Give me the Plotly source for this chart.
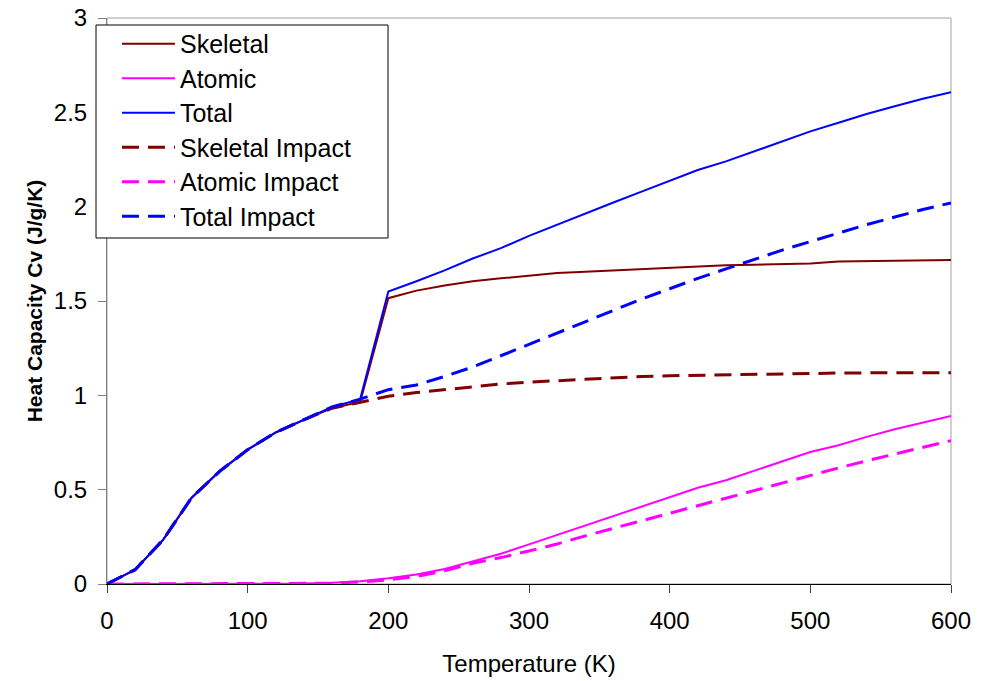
import plotly.graph_objects as go

temps = [0, 20, 40, 60, 80, 100, 120, 140, 160, 180, 200, 220, 240, 260, 280, 300,
         320, 340, 360, 380, 400, 420, 440, 460, 480, 500, 520, 540, 560, 580, 600]

skeletal = [0, 0.076, 0.235, 0.456, 0.597, 0.712, 0.803, 0.870, 0.932, 0.965,
            1.515, 1.555, 1.582, 1.605, 1.620, 1.635, 1.648, 1.655, 1.662, 1.672,
            1.678, 1.684, 1.690, 1.692, 1.696, 1.699, 1.710, 1.711, 1.712, 1.717, 1.717]

atomic = [0, 0, 0, 0, 0, 0, 0.001, 0.002, 0.006, 0.015,
          0.03, 0.05, 0.08, 0.12, 0.16, 0.21, 0.26, 0.31, 0.36, 0.41,
          0.46, 0.51, 0.55, 0.60, 0.65, 0.70, 0.735, 0.78, 0.82, 0.855, 0.89]

total = [0, 0.076, 0.235, 0.456, 0.597, 0.712, 0.804, 0.872, 0.938, 0.98,
         1.55, 1.605, 1.662, 1.725, 1.78, 1.845, 1.905, 1.965, 2.022, 2.08,
         2.138, 2.194, 2.24, 2.292, 2.346, 2.399, 2.445, 2.491, 2.532, 2.572, 2.607]

skeletal_impact = [0, 0.076, 0.235, 0.456, 0.597, 0.712, 0.803, 0.870, 0.932, 0.965,
                   0.995, 1.015, 1.03, 1.045, 1.06, 1.07, 1.078, 1.085, 1.093, 1.10,
                   1.104, 1.107, 1.11, 1.112, 1.114, 1.116, 1.118, 1.119, 1.12, 1.12, 1.12]

atomic_impact = [0, 0, 0, 0, 0, 0, 0.001, 0.002, 0.004, 0.011,
                 0.022, 0.04, 0.07, 0.11, 0.14, 0.175, 0.212, 0.255, 0.295, 0.335,
                 0.375, 0.419, 0.458, 0.498, 0.538, 0.578, 0.615, 0.653, 0.69, 0.725, 0.76]

total_impact = [0, 0.076, 0.235, 0.456, 0.597, 0.712, 0.804, 0.872, 0.938, 0.98,
                1.03, 1.055, 1.10, 1.15, 1.21, 1.27, 1.33, 1.39, 1.45, 1.51,
                1.565, 1.62, 1.67, 1.72, 1.77, 1.815, 1.86, 1.905, 1.945, 1.985, 2.02]

series = [
    ("Skeletal", skeletal, "#800000", "solid", 2),
    ("Atomic", atomic, "#FF00FF", "solid", 2),
    ("Total", total, "#0000FF", "solid", 2),
    ("Skeletal Impact", skeletal_impact, "#800000", "17px,9px", 3),
    ("Atomic Impact", atomic_impact, "#FF00FF", "17px,9px", 3),
    ("Total Impact", total_impact, "#0000FF", "17px,9px", 3),
]

fig = go.Figure()
for name, vals, color, dash, w in series:
    fig.add_trace(go.Scatter(
        x=temps, y=vals, mode="lines",
        name=f'<span style="font-size:25px">{name}</span>',
        line=dict(color=color, dash=dash, width=w),
    ))

font_family = "Arial, Liberation Sans, sans-serif"

fig.update_layout(
    width=986, height=681,
    margin=dict(l=107, r=35, t=18, b=97),
    paper_bgcolor="white", plot_bgcolor="white",
    font=dict(family=font_family, color="black", size=24),
    showlegend=True,
    legend=dict(
        x=0.0118, y=0.9936, xanchor="left", yanchor="top",
        bgcolor="rgba(0,0,0,0)", borderwidth=0,
        font=dict(size=24.2, family=font_family),
        itemwidth=53,
    ),
    xaxis=dict(
        range=[0, 600], tickvals=[0, 100, 200, 300, 400, 500, 600],
        showgrid=False, zeroline=False, automargin=False,
        showline=True, linecolor="black", linewidth=1,
        ticks="outside", ticklen=8, tickcolor="#404040",
        tickfont=dict(size=24), ticklabelstandoff=7,
        title=dict(text="Temperature (K)", font=dict(size=24), standoff=22),
    ),
    yaxis=dict(
        range=[0, 3], tickvals=[0, 0.5, 1, 1.5, 2, 2.5, 3],
        ticktext=["0", "0.5", "1", "1.5", "2", "2.5", "3"],
        showgrid=False, zeroline=False, automargin=False,
        showline=True, linecolor="#808080", linewidth=1,
        ticks="outside", ticklen=8, tickcolor="#808080",
        tickfont=dict(size=24), ticklabelstandoff=6,
        title=dict(text="<b>Heat Capacity Cv (J/g/K)</b>", font=dict(size=21), standoff=5),
    ),
    shapes=[
        dict(type="rect", xref="paper", yref="paper", x0=0, y0=0, x1=1, y1=1,
             line=dict(color="#A0A0A0", width=1), layer="below"),
        dict(type="rect", xref="paper", yref="paper",
             x0=-0.01303, x1=0.33294, y0=0.61131, y1=0.98763,
             line=dict(color="black", width=1), fillcolor="white", layer="above"),
    ],
)

fig.write_html("out.html")
